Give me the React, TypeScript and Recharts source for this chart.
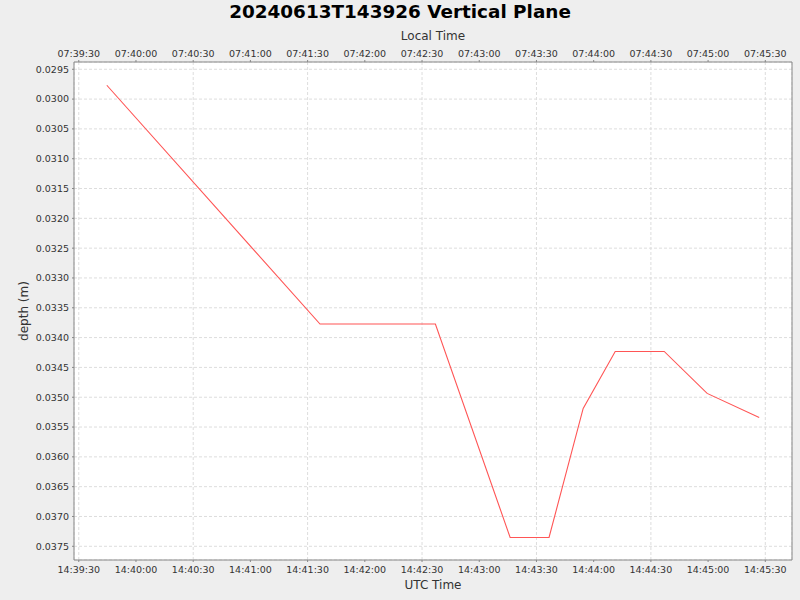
import { LineChart, Line, XAxis, YAxis, CartesianGrid } from 'recharts';

const utcTimes = ['14:39:44.7', '14:41:36.5', '14:42:37.0', '14:43:16.2', '14:43:36.6', '14:43:54.5', '14:44:11.3', '14:44:37.0', '14:44:59.5', '14:45:26.8'];
const depths = [0.029768, 0.033773, 0.033773, 0.037352, 0.037352, 0.035188, 0.034232, 0.034232, 0.034936, 0.035339];

const utcTicks = ['14:39:30', '14:40:00', '14:40:30', '14:41:00', '14:41:30', '14:42:00', '14:42:30', '14:43:00', '14:43:30', '14:44:00', '14:44:30', '14:45:00', '14:45:30'];
const localTicks = ['07:39:30', '07:40:00', '07:40:30', '07:41:00', '07:41:30', '07:42:00', '07:42:30', '07:43:00', '07:43:30', '07:44:00', '07:44:30', '07:45:00', '07:45:30'];
const depthTicks = [0.0295, 0.03, 0.0305, 0.031, 0.0315, 0.032, 0.0325, 0.033, 0.0335, 0.034, 0.0345, 0.035, 0.0355, 0.036, 0.0365, 0.037, 0.0375];

const toSec = (s: string) => {
    const [h, m, sec] = s.split(':').map(Number);
    return h * 3600 + m * 60 + sec;
};

const data = utcTimes.map((t, i) => ({ t: toSec(t), depth: depths[i] }));
const tickSecs = utcTicks.map(toSec);
const xDomain = [tickSecs[0] - 2.5, tickSecs[0] + 374];
const yDomain = [0.029378, 0.03773];

const FONT = '"DejaVu Sans", sans-serif';
const tickStyle = { fontSize: 9.5, fill: '#333', fontFamily: FONT };
const axisColor = '#888888';

export default function App() {
    return (
        <div style={{ position: 'absolute', left: 0, top: 0, width: 800, height: 600, background: '#eeeeee', fontFamily: FONT }}>
            <div style={{ position: 'absolute', top: 0, left: 0, width: 800, textAlign: 'center', fontSize: 18.4, fontWeight: 'bold', lineHeight: '24px', color: '#000' }}>
                20240613T143926 Vertical Plane
            </div>
            <div style={{ position: 'absolute', top: 28, left: 74, width: 718, textAlign: 'center', fontSize: 12, lineHeight: '16px', color: '#333' }}>
                Local Time
            </div>
            <div style={{ position: 'absolute', top: 577, left: 74, width: 718, textAlign: 'center', fontSize: 12, lineHeight: '16px', color: '#333' }}>
                UTC Time
            </div>
            <div style={{ position: 'absolute', top: 303, left: -26, width: 100, textAlign: 'center', fontSize: 12, lineHeight: '16px', color: '#333', transform: 'rotate(-90deg)' }}>
                depth (m)
            </div>
            <LineChart width={800} height={600} data={data} margin={{ top: 42, right: 0, bottom: 0, left: 0 }}>
                <CartesianGrid xAxisId="utc" yAxisId="depth" fill="#ffffff" stroke="#dddddd" strokeDasharray="3 2" />
                <XAxis
                    xAxisId="utc"
                    dataKey="t"
                    type="number"
                    orientation="bottom"
                    domain={xDomain}
                    ticks={tickSecs}
                    allowDataOverflow
                    height={40}
                    tickSize={2}
                    tickMargin={4}
                    stroke={axisColor}
                    tick={tickStyle}
                    tickFormatter={(v: number) => utcTicks[tickSecs.indexOf(v)] ?? ''}
                />
                <XAxis
                    xAxisId="local"
                    dataKey="t"
                    type="number"
                    orientation="top"
                    domain={xDomain}
                    ticks={tickSecs}
                    allowDataOverflow
                    height={20}
                    tickSize={2}
                    tickMargin={3}
                    stroke={axisColor}
                    tick={tickStyle}
                    tickFormatter={(v: number) => localTicks[tickSecs.indexOf(v)] ?? ''}
                />
                <YAxis
                    yAxisId="depth"
                    type="number"
                    reversed
                    domain={yDomain}
                    ticks={depthTicks}
                    allowDataOverflow
                    width={74}
                    tickSize={2}
                    tickMargin={3}
                    stroke={axisColor}
                    tick={tickStyle}
                    tickFormatter={(v: number) => v.toFixed(4)}
                />
                <YAxis
                    yAxisId="right"
                    orientation="right"
                    type="number"
                    domain={yDomain}
                    width={8}
                    tick={false}
                    tickLine={false}
                    stroke={axisColor}
                />
                <Line
                    xAxisId="utc"
                    yAxisId="depth"
                    type="linear"
                    dataKey="depth"
                    stroke="#ff5555"
                    strokeWidth={1.1}
                    dot={false}
                    isAnimationActive={false}
                />
            </LineChart>
        </div>
    );
}
